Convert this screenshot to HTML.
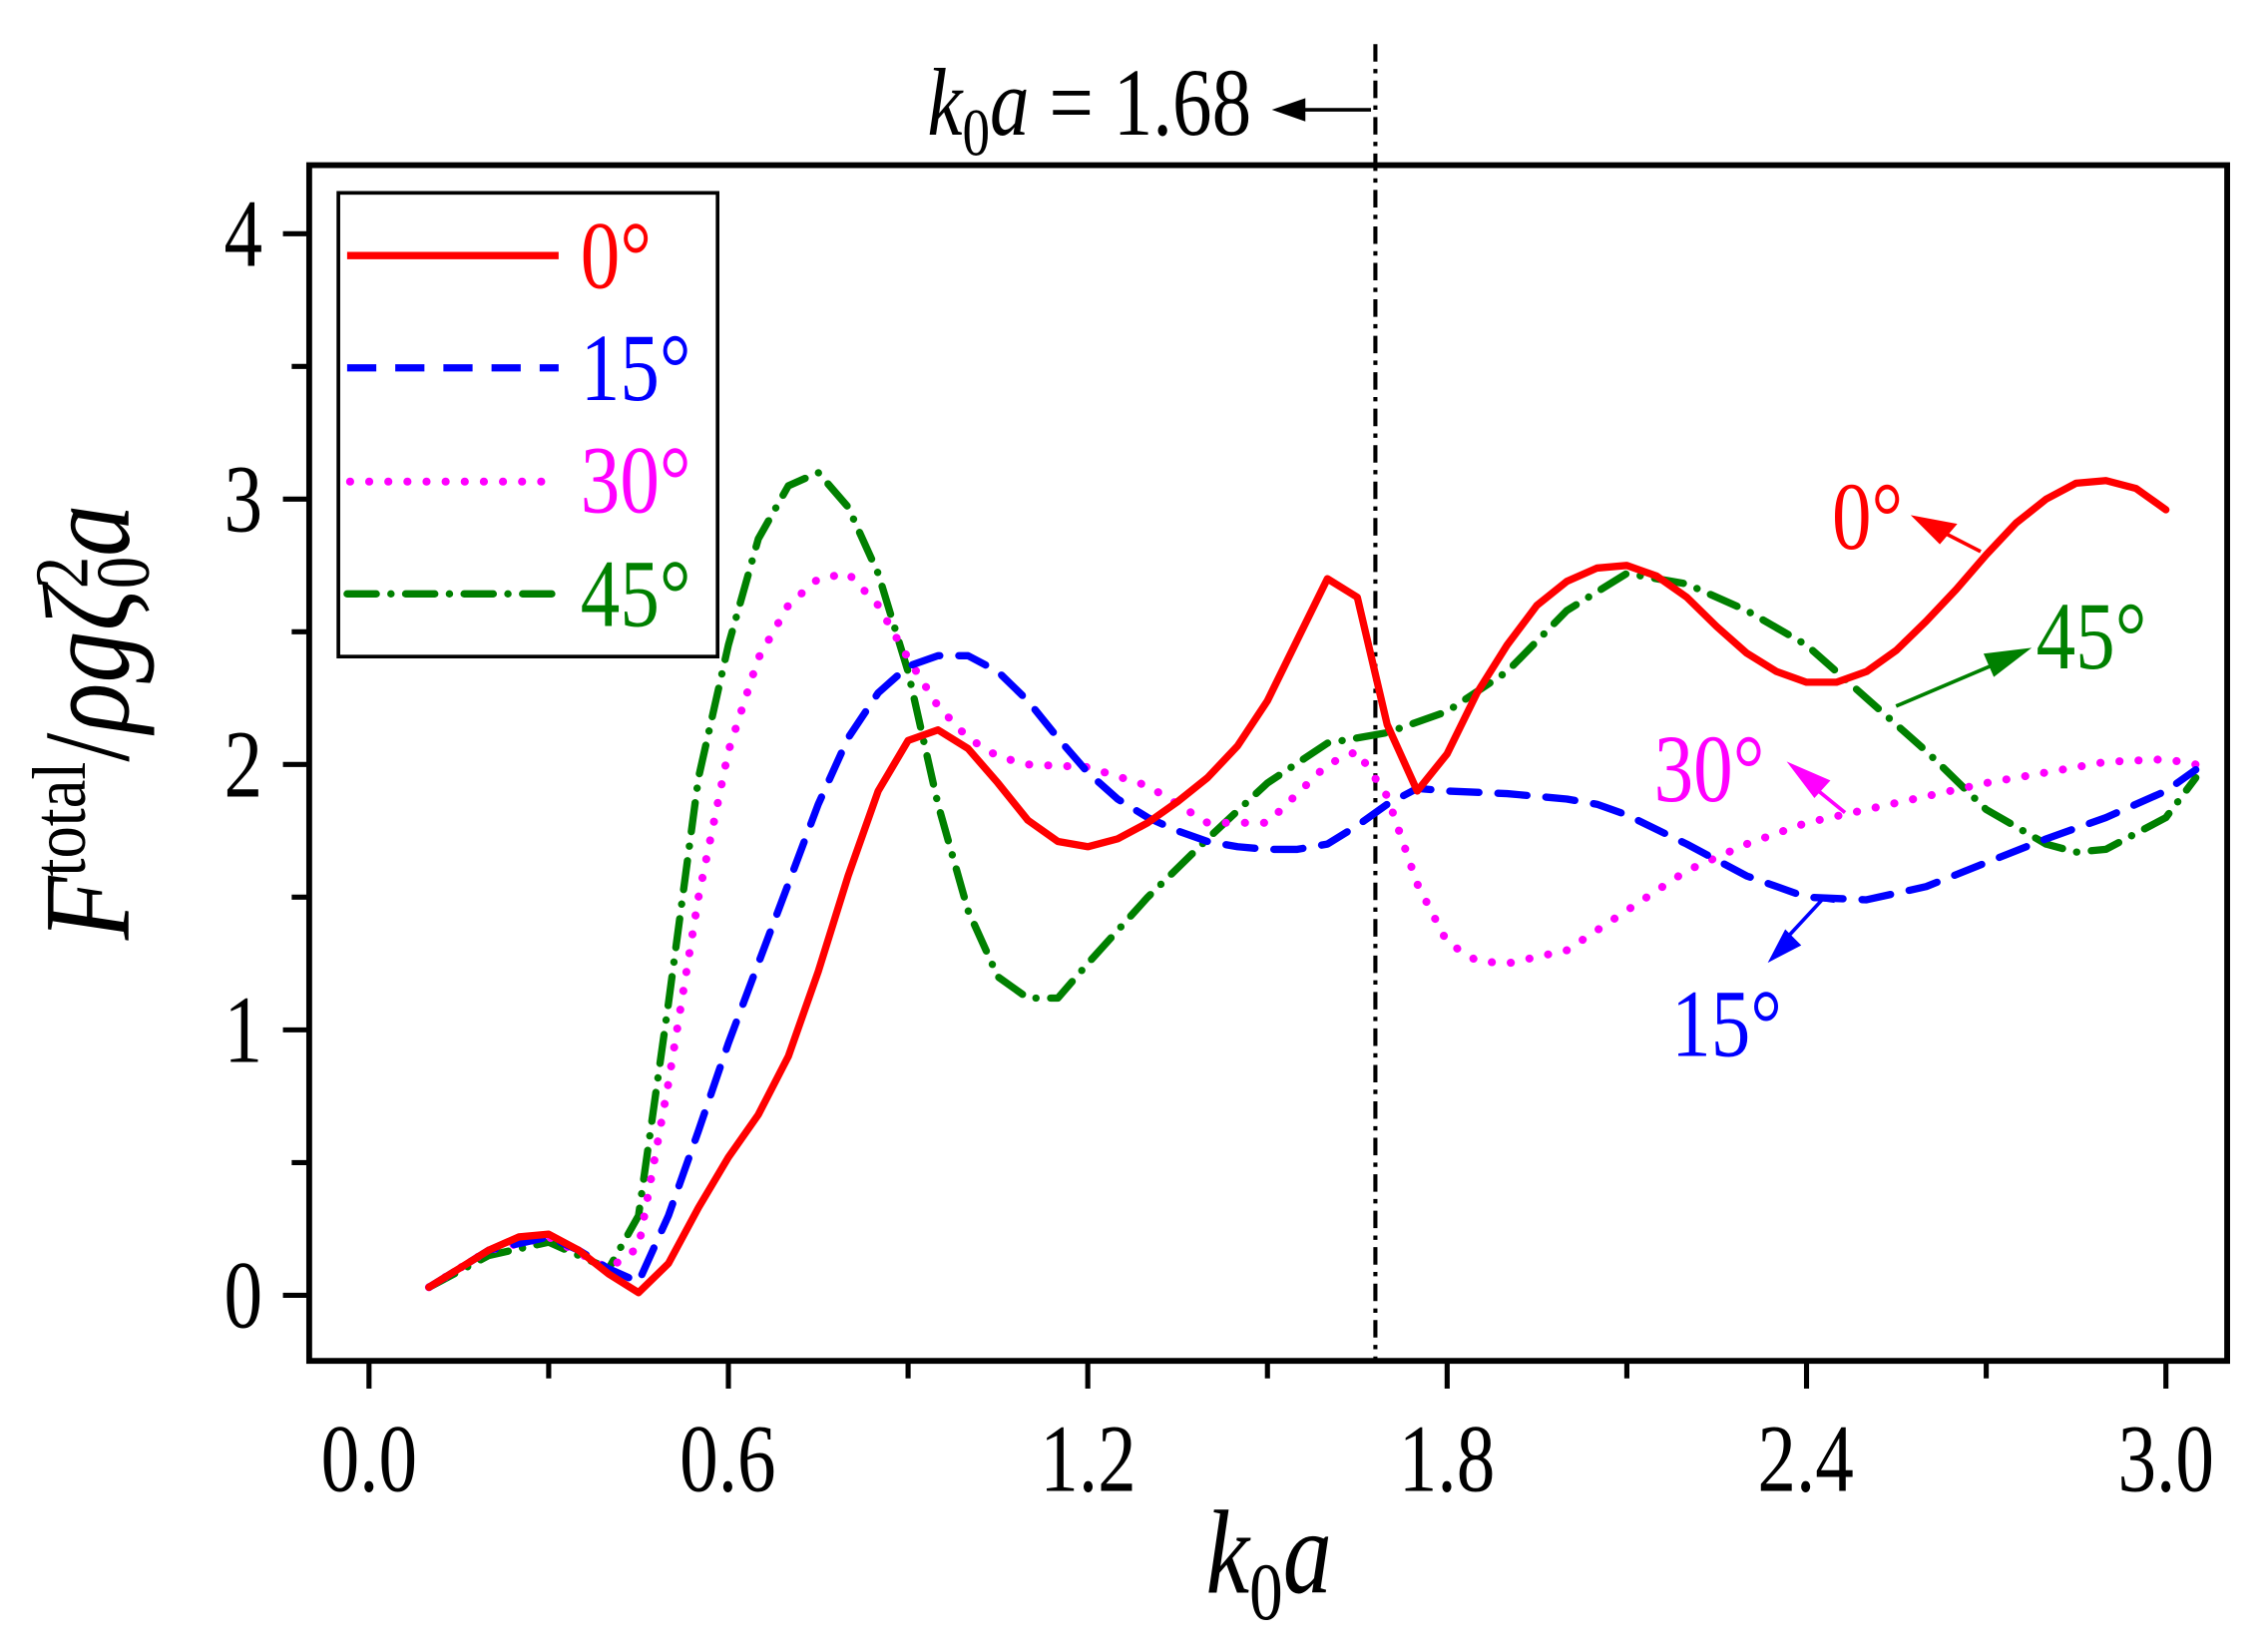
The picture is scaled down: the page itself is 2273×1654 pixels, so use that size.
<!DOCTYPE html>
<html><head><meta charset="utf-8"><style>
html,body{margin:0;padding:0;background:#fff}
svg{display:block}
text{font-family:"Liberation Serif",serif}
</style></head><body>
<svg id="s" width="2273" height="1654" viewBox="0 0 1555 1131" xmlns="http://www.w3.org/2000/svg">
<rect x="212" y="113" width="1315" height="820" fill="none" stroke="#000" stroke-width="4"/>
<g id="ticks" stroke="#000" stroke-width="3.5"></g>
<g id="txt"></g>
<line x1="943" y1="30" x2="943" y2="933" stroke="#000" stroke-width="2.8" stroke-dasharray="12,5,3,5"/>
<line x1="940" y1="75" x2="885" y2="75" stroke="#000" stroke-width="2.5"/>
<path d="M872,75 L895,67 L895,83 z" fill="#000"/>
<g id="curves" fill="none" stroke-width="5" stroke-linejoin="round"></g>
<rect x="232" y="132" width="260" height="318" fill="#fff" stroke="#000" stroke-width="2.5"/>
<line x1="238" y1="175" x2="383" y2="175" stroke="#f00" stroke-width="5"/>
<line x1="238" y1="252" x2="383" y2="252" stroke="#00f" stroke-width="5" stroke-dasharray="20,13"/>
<line x1="240" y1="330" x2="383" y2="330" stroke="#f0f" stroke-width="5.5" stroke-dasharray="0.1,13" stroke-linecap="round"/>
<line x1="238" y1="407" x2="383" y2="407" stroke="#008000" stroke-width="5" stroke-dasharray="20,10,0.1,10" stroke-linecap="round"/>
<g id="txt2"></g>
<g stroke-width="2.5">
<line x1="1358" y1="378" x2="1325" y2="361" stroke="#f00"/><path d="M1310,353 L1342,359 L1330,373 z" fill="#f00"/>
<line x1="1300" y1="484" x2="1380" y2="450" stroke="#008000"/><path d="M1393,444 L1360,448 L1367,464 z" fill="#008000"/>
<line x1="1265" y1="557" x2="1238" y2="535" stroke="#f0f"/><path d="M1225,522 L1255,535 L1244,547 z" fill="#f0f"/>
<line x1="1250" y1="616" x2="1225" y2="643" stroke="#00f"/><path d="M1212,660 L1224,637 L1235,648 z" fill="#00f"/>
<line x1="1244" y1="615" x2="1258" y2="617" stroke="#00f" stroke-width="4"/>
</g>
</svg>
<script>
var X=function(v){return 253+v*410.67},Y=function(v){return 888-v*182};
var ns="http://www.w3.org/2000/svg";
function T(g,x,y,fs,anchor,fill,html,sx,rot){
 var tr='translate('+x+','+y+')'+(rot?' rotate('+rot+')':'')+' scale('+sx+',1)';
 return '<g transform="'+tr+'"><text x="0" y="0" font-size="'+fs+'" text-anchor="'+anchor+'" fill="'+fill+'">'+html+'</text></g>';
}
var h='',sx=0.8;
[[905,'0'],[723,'1'],[541,'2'],[359,'3'],[177,'4']].forEach(function(a){h+=T(0,180,a[0]+5,66,'end','#000',a[1],sx);});
[[253,'0.0'],[499,'0.6'],[746,'1.2'],[992,'1.8'],[1238,'2.4'],[1485,'3.0']].forEach(function(a){h+=T(0,a[0],1022,66,'middle','#000',a[1],sx);});
h+=T(0,870,1092,82,'middle','#000','<tspan font-style="italic">k</tspan><tspan font-size="56" dy="18">0</tspan><tspan dy="-18" font-style="italic">a</tspan>',0.82);
h+=T(0,858,92,66,'end','#000','<tspan font-style="italic">k</tspan><tspan font-size="46" dy="14">0</tspan><tspan dy="-14" font-style="italic">a</tspan> = 1.68',0.82);
h+=T(0,88,495,84,'middle','#000','<tspan font-style="italic">F</tspan><tspan font-size="52" dy="-30">total</tspan><tspan dy="30">/</tspan><tspan font-style="italic">ρg</tspan><tspan font-style="italic">ζ</tspan><tspan font-size="52" dy="14">0</tspan><tspan font-size="52" dy="-42" dx="-26">2</tspan><tspan dy="28" font-style="italic">a</tspan>',0.85,-90);
document.getElementById('txt').innerHTML=h;
var h2='';
h2+=T(0,398,197,66,'start','#f00','0°',0.82);
h2+=T(0,398,274,66,'start','#00f','15°',0.82);
h2+=T(0,398,351,66,'start','#f0f','30°',0.82);
h2+=T(0,398,429,66,'start','#008000','45°',0.82);
h2+=T(0,1256,376,66,'start','#f00','0°',0.82);
h2+=T(0,1396,458,66,'start','#008000','45°',0.82);
h2+=T(0,1134,549,66,'start','#f0f','30°',0.82);
h2+=T(0,1146,724,66,'start','#00f','15°',0.82);
document.getElementById('txt2').innerHTML=h2;
var t=document.getElementById('ticks'),k='';
for(var i=0;i<=10;i++){var x=X(i*0.3);k+='<line x1="'+x+'" y1="933" x2="'+x+'" y2="'+(i%2?945:952)+'"/>';}
for(var j=0;j<=8;j++){var y=Y(j*0.5);k+='<line x1="212" y1="'+y+'" x2="'+(j%2?200:194)+'" y2="'+y+'"/>';}
t.innerHTML=k;
var D={
r:[[0.1,0.03],[0.15,0.1],[0.2,0.17],[0.25,0.22],[0.3,0.23],[0.35,0.17],[0.4,0.08],[0.45,0.01],[0.5,0.12],[0.55,0.33],[0.6,0.52],[0.65,0.68],[0.7,0.9],[0.75,1.22],[0.8,1.58],[0.85,1.9],[0.9,2.09],[0.95,2.13],[1.0,2.06],[1.05,1.93],[1.1,1.79],[1.15,1.71],[1.2,1.69],[1.25,1.72],[1.3,1.78],[1.35,1.86],[1.4,1.95],[1.45,2.07],[1.5,2.24],[1.55,2.47],[1.6,2.7],[1.65,2.63],[1.7,2.15],[1.75,1.9],[1.8,2.04],[1.85,2.27],[1.9,2.45],[1.95,2.6],[2.0,2.69],[2.05,2.74],[2.1,2.75],[2.15,2.71],[2.2,2.63],[2.25,2.52],[2.3,2.42],[2.35,2.35],[2.4,2.31],[2.45,2.31],[2.5,2.35],[2.55,2.43],[2.6,2.54],[2.65,2.66],[2.7,2.79],[2.75,2.91],[2.8,3.0],[2.85,3.06],[2.9,3.07],[2.95,3.04],[3.0,2.96]],
b:[[0.1,0.03],[0.2,0.17],[0.3,0.22],[0.35,0.17],[0.4,0.1],[0.45,0.05],[0.5,0.3],[0.55,0.62],[0.6,0.95],[0.65,1.25],[0.7,1.55],[0.75,1.85],[0.8,2.1],[0.85,2.27],[0.9,2.37],[0.95,2.41],[1.0,2.41],[1.05,2.35],[1.1,2.24],[1.15,2.1],[1.2,1.97],[1.25,1.87],[1.3,1.8],[1.35,1.75],[1.4,1.71],[1.45,1.69],[1.5,1.68],[1.55,1.68],[1.6,1.7],[1.65,1.77],[1.7,1.85],[1.75,1.91],[1.8,1.9],[1.9,1.89],[2.0,1.87],[2.05,1.85],[2.1,1.81],[2.2,1.7],[2.3,1.58],[2.4,1.5],[2.5,1.49],[2.6,1.54],[2.7,1.63],[2.8,1.72],[2.9,1.8],[3.0,1.9],[3.05,1.98]],
m:[[0.1,0.03],[0.2,0.17],[0.3,0.22],[0.4,0.1],[0.45,0.18],[0.5,0.8],[0.55,1.5],[0.6,2.05],[0.65,2.4],[0.7,2.6],[0.75,2.7],[0.8,2.72],[0.85,2.6],[0.9,2.4],[0.95,2.22],[1.0,2.1],[1.05,2.03],[1.1,2.0],[1.2,1.99],[1.3,1.92],[1.4,1.78],[1.5,1.78],[1.6,2.0],[1.65,2.05],[1.7,1.88],[1.75,1.55],[1.8,1.33],[1.85,1.26],[1.9,1.25],[2.0,1.3],[2.1,1.45],[2.2,1.6],[2.3,1.7],[2.4,1.78],[2.5,1.83],[2.6,1.88],[2.7,1.93],[2.8,1.97],[2.9,2.01],[3.0,2.02],[3.05,2.0]],
g:[[0.1,0.03],[0.2,0.15],[0.3,0.2],[0.4,0.1],[0.45,0.3],[0.5,1.1],[0.55,1.95],[0.6,2.45],[0.65,2.85],[0.7,3.05],[0.75,3.1],[0.8,2.97],[0.85,2.72],[0.9,2.35],[0.95,1.85],[1.0,1.45],[1.05,1.2],[1.1,1.12],[1.15,1.12],[1.2,1.25],[1.3,1.5],[1.4,1.72],[1.5,1.93],[1.6,2.08],[1.7,2.12],[1.8,2.2],[1.9,2.35],[2.0,2.58],[2.1,2.72],[2.2,2.68],[2.3,2.58],[2.4,2.45],[2.5,2.25],[2.6,2.05],[2.7,1.83],[2.8,1.7],[2.85,1.67],[2.9,1.68],[3.0,1.8],[3.05,1.95]]};
var S={g:['#008000','20,10,0.1,10','round'],m:['#f0f','0.1,13','round'],b:['#00f','20,13','round'],r:['#f00','','round']};
var c=document.getElementById('curves');
['g','m','b','r'].forEach(function(k){var p=document.createElementNS(ns,'polyline');
p.setAttribute('points',D[k].map(function(q){return X(q[0]).toFixed(1)+','+Y(q[1]).toFixed(1)}).join(' '));
p.setAttribute('stroke',S[k][0]);if(S[k][1])p.setAttribute('stroke-dasharray',S[k][1]);p.setAttribute('stroke-linecap',S[k][2]);
if(k=='m')p.setAttribute('stroke-width','5.5');c.appendChild(p);});
</script>
</body></html>
